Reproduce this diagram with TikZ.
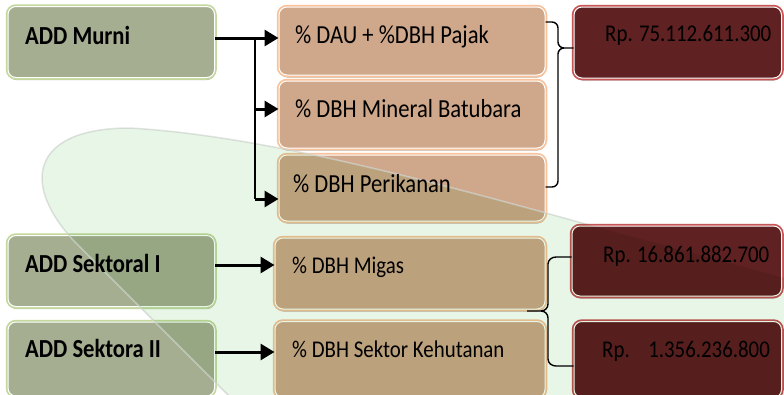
\documentclass[tikz,border=0pt]{standalone}
\usepackage{fontspec}
\setmainfont{Carlito}[FakeStretch=0.87]
\usetikzlibrary{arrows.meta,shadows}
\definecolor{gfill}{HTML}{A6AE92}
\definecolor{gline}{HTML}{C4D89E}
\definecolor{tfill}{HTML}{CFA78A}
\definecolor{tline}{HTML}{F9C29A}
\definecolor{rfill}{HTML}{5F2121}
\definecolor{rline}{HTML}{C85555}
\definecolor{bgleaf}{HTML}{E8F6E8}
\definecolor{leafedge}{HTML}{DADADA}
\tikzset{
  boxbase/.style={rectangle, rounded corners=8pt, inner sep=0pt, line width=1pt, draw=white},
  boxshadow/.style={drop shadow={shadow xshift=0.5pt, shadow yshift=-2.5pt, opacity=0.3, fill=black}},
  gbox/.style={boxbase, boxshadow, fill=gfill, preaction={draw=gline, line width=4.5pt}},
  tbox/.style={boxbase, boxshadow, fill=tfill, preaction={draw=tline, line width=4.5pt}},
  rbox/.style={boxbase, boxshadow, fill=rfill, preaction={draw=rline, line width=4.5pt}},
  gtxt/.style={anchor=base west, inner sep=0pt, font=\fontsize{26}{30}\selectfont\bfseries},
  ttxt/.style={anchor=base west, inner sep=0pt, font=\fontsize{26}{30}\selectfont},
  stxt/.style={anchor=base west, inner sep=0pt, font=\fontsize{24}{28}\selectfont},
  arr/.style={line width=3pt, -{Triangle[length=14pt,width=16pt]}},
  vline/.style={line width=1.4pt},
  bracel/.style={line width=1.4pt, line join=round},
}
\begin{document}
\begin{tikzpicture}[x=1pt,y=-1pt]
\useasboundingbox (0,0) rectangle (784,394);
\clip (0,0) rectangle (784,394);
\fill[white] (0,0) rectangle (784,394);

% left boxes
\node[gbox, minimum width=206.5pt, minimum height=71pt] (murni) at (111.25,42) {};
\node[gbox, minimum width=206.5pt, minimum height=71pt] (sek1) at (111.25,271) {};
\node[gbox, minimum width=206.5pt, minimum height=74pt] (sek2) at (111.25,359) {};
% middle boxes
\node[tbox, minimum width=266pt, minimum height=68pt] (m1) at (412,41) {};
\node[tbox, minimum width=266pt, minimum height=67pt] (m2) at (412,114.5) {};
\node[tbox, minimum width=266pt, minimum height=66pt] (m3) at (412,188) {};
\node[tbox, minimum width=270pt, minimum height=71pt] (m4) at (410,273.5) {};
\node[tbox, minimum width=270pt, minimum height=76pt] (m5) at (410,359.5) {};

% edge of the leaf-shaped background (behind the right boxes)
\draw[leafedge, draw opacity=0.7, line width=1.5pt] (850,296) -- (600,228)
  .. controls (400,172) and (250,135) .. (130,128)
  .. controls (30,128) and (20,185) .. (76,243) -- (262,429);

% right boxes
\node[rbox, minimum width=207.5pt, minimum height=71pt] (rp1) at (677.75,42.5) {};
\node[rbox, minimum width=209.5pt, minimum height=70pt] (rp2) at (676.75,261) {};
\node[rbox, minimum width=207.5pt, minimum height=76pt] (rp3) at (677.75,359.5) {};

% texts
\node[gtxt] (tmurni) at (25,44) {ADD Murni};
\node[gtxt] (tsek1) at (25,272) {ADD Sektoral I};
\node[gtxt] (tsek2) at (25,357) {ADD Sektora II};
\node[ttxt] (tm1) at (295,43) {\% DAU + \%DBH Pajak};
\node[ttxt] (tm2) at (295,117) {\% DBH Mineral Batubara};
\node[ttxt] (tm3) at (293,192) {\% DBH Perikanan};
\node[stxt] (tm4) at (292,273) {\% DBH Migas};
\node[stxt] (tm5) at (292,357) {\% DBH Sektor Kehutanan};
\node[stxt] (trp1) at (605,41) {Rp. 75.112.611.300};
\node[stxt] (trp2) at (603,262) {Rp. 16.861.882.700};
\node[stxt] (trp3) at (602,357) {Rp.\hspace{18.5pt}1.356.236.800};

% arrows
\coordinate (j1) at (255,38);
\coordinate (j2) at (255,109);
\coordinate (j3) at (255,199);
\coordinate (a4) at (0,265);
\coordinate (a5) at (0,352);
\draw[arr] (murni.east |- j1) -- (m1.west |- j1);
\draw[vline] (j1) -- (j3);
\draw[arr] (j2) -- (m2.west |- j2);
\draw[arr] (j3) -- (m3.west |- j3);
\draw[arr] (sek1.east |- a4) -- (m4.west |- a4);
\draw[arr] (sek2.east |- a5) -- (m5.west |- a5);

% top brace
\coordinate (bt1) at (0,22);
\coordinate (bt2) at (0,187);
\coordinate (btip) at (564,48);
\draw[bracel] (m1.east |- bt1) -- (552,22) to[out=0,in=90] (558,28) -- (558,42)
  to[out=-90,in=180] (btip) -- (rp1.west |- btip);
\draw[bracel] (btip) to[out=180,in=90] (558,54) -- (558,181) to[out=-90,in=0] (552,187)
  -- (m3.east |- bt2);
% bottom brace
\coordinate (bb) at (541,311);
\coordinate (bu) at (0,257);
\coordinate (bl) at (0,366);
\draw[bracel] (527,311) -- (bb) to[out=0,in=-90] (548,304) -- (548,264)
  to[out=90,in=180] (556,257) -- (rp2.west |- bu);
\draw[bracel] (bb) to[out=0,in=90] (548,318) -- (548,359) to[out=-90,in=180] (556,366)
  -- (rp3.west |- bl);

% leaf-shaped background overlay
\begin{scope}[blend mode=multiply]
\fill[bgleaf] (850,296) -- (600,228) .. controls (400,172) and (250,135) .. (130,128)
  .. controls (30,128) and (20,185) .. (76,243) -- (262,429) -- (850,429) -- cycle;
\end{scope}
\end{tikzpicture}
\end{document}
